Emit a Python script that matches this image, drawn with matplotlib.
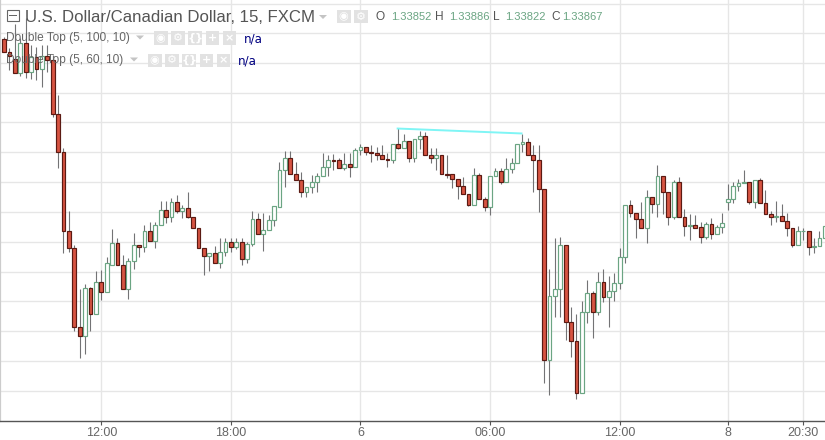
import matplotlib
matplotlib.use("Agg")
import matplotlib.pyplot as plt
from matplotlib.patches import Rectangle, Polygon

# Chart levels: the reference has no visible price axis, so values are in chart units (10 pips is about 29.8 units)
opens = [400.5,388,381,367,397,368,383,371,384,380,326,288,209,192,113,104,152,126,158,148,175,197,175,151,179,195,193,209,199,215,230,223,238,229,232,223,212,192,184,187,177,188,198,193,198,181,196,221,206,210,220,
233,270,282,266,260,248,253,258,264,273,280,280,272,276,273,290,293,288,287,285,281,280,296,292,299,282,301,304,285,282,285,266,266,261,254,246,235,265,241,233,264,269,258,271,277,296,298,285,280,251,
80,144,151,195,118,99,47,128,147,128,158,143,149,157,183,235,227,221,212,243,236,264,248,223,258,223,214,215,213,203,216,206,213,238,241,254,257,258,238,260,237,226,223,224,219,212,195,209,209,193,194,202]
highs = [403,392,416,402,422,395,393,395,395,385,345,292,229,195,151,156,153,169,170,183,211,202,185,182,207,195,215,218,218,239,239,242,245,235,248,223,212,192,187,194,202,202,202,202,202,198,229,227,227,225,234,
278,289,289,278,268,253,265,267,287,285,286,282,287,287,292,296,293,295,293,295,287,296,312,306,299,301,309,308,292,292,285,285,266,261,263,246,272,267,243,264,272,272,282,282,296,306,302,295,295,251,
171,202,203,195,133,126,139,160,149,168,171,164,167,192,235,240,227,238,250,243,275,264,248,260,263,231,226,225,218,218,222,215,227,256,258,261,270,258,260,262,250,229,239,236,227,212,214,212,209,202,209,214]
lows = [388,370,367,364,362,361,360,353,368,323,272,187,188,109,82,86,109,126,140,148,175,175,151,141,171,183,188,199,192,215,217,218,227,222,222,212,192,165,169,177,172,184,188,191,175,177,194,206,189,210,214,
233,253,266,260,243,243,247,248,264,264,270,272,270,263,273,285,285,278,280,281,273,277,291,292,278,278,291,285,277,270,266,262,252,241,246,234,235,241,229,225,264,256,258,267,277,288,285,248,228,57,
45,123,123,100,83,41,47,117,102,125,138,113,139,151,177,223,202,212,197,227,223,226,215,221,223,204,200,212,197,201,201,206,207,230,237,249,257,236,232,237,226,215,218,219,204,193,195,200,185,187,194,202]
closes = [388,384,367,397,368,383,371,384,380,326,288,209,192,113,104,152,126,158,148,177,197,175,151,179,195,193,209,199,215,230,223,238,229,232,223,212,192,184,187,177,188,198,193,198,181,196,221,206,210,220,234,
270,282,266,260,248,253,258,264,273,280,279,272,276,273,290,293,288,287,285,281,280,296,292,299,282,301,304,285,282,285,266,265,261,254,246,235,265,241,233,264,269,258,271,277,296,298,285,280,251,80,
144,151,195,118,99,47,128,147,128,158,143,149,157,183,235,227,221,212,243,236,264,248,223,258,223,214,215,212,203,216,206,213,217,241,254,257,258,238,260,237,226,223,224,219,212,195,209,209,193,194,202,214]

grid_levels = [436,407,377,347,318,288,258,228,198,168,139,109,79,49]
tick_positions = [18,42,66,90,114,134,148]
tick_labels = ["12:00","18:00","6","06:00","12:00","8","20:30"]
pattern_x = [72.7,96]
pattern_y = [311.5,306.5]
title = "U.S. Dollar/Canadian Dollar, 15, FXCM"
study_names = ["Double Top (5, 100, 10)","Double Top (5, 60, 10)"]
ohlc_labels = ["O","H","L","C"]
ohlc_values = ["1.33852","1.33886","1.33822","1.33867"]

W, H = 825, 440
UP_EDGE, DOWN_FILL, DOWN_EDGE, WICK = "#6ba583", "#d75442", "#5b1a13", "#737375"
GRID = "#e6e6e6"

fig = plt.figure(figsize=(8.25, 4.4), dpi=100, facecolor="white")
ax = fig.add_axes([0, 19 / H, 1, 421 / H])
ax.set_xlim(-0.759, 152.02)
ax.set_ylim(19, 440)
ax.set_facecolor("white")
for s in ("top", "right"):
    ax.spines[s].set_visible(False)
ax.spines["left"].set_color("#cccccc")
ax.spines["left"].set_linewidth(1.6)
ax.spines["bottom"].set_color("#555555")
ax.spines["bottom"].set_linewidth(1.0)
ax.set_yticks(grid_levels)
ax.tick_params(axis="y", length=0, labelleft=False)
ax.set_xticks(tick_positions)
ax.set_xticklabels(tick_labels, fontsize=9, color="#666666", family="Liberation Sans")
ax.tick_params(axis="x", length=3, width=0.8, color="#555555", pad=1.5)
ax.grid(True, color=GRID, linewidth=0.95, zorder=0)
ax.set_axisbelow(True)

xs = list(range(len(opens)))
ax.vlines(xs, lows, highs, color=WICK, linewidth=0.8, zorder=2)
BW = 0.68
for i, (o, c) in enumerate(zip(opens, closes)):
    up = c >= o
    ax.bar(i, abs(c - o), bottom=min(o, c), width=BW,
           facecolor="white" if up else DOWN_FILL,
           edgecolor=UP_EDGE if up else DOWN_EDGE, linewidth=0.85, zorder=3)

ax.plot(pattern_x, pattern_y, color="#7ff5f5", linewidth=1.4, solid_capstyle="butt", zorder=4)


def fx(x):
    return x / W


def fy(y):
    return 1 - y / H


def txt(x, y, s, size, color, ha="left", family="Liberation Sans", **kw):
    fig.text(fx(x), fy(y), s, fontsize=size, color=color, ha=ha, va="center", family=family, zorder=10, **kw)


def rect(x, y, w, h, **kw):
    fig.add_artist(Rectangle((fx(x), fy(y + h)), w / W, h / H, transform=fig.transFigure, zorder=9, **kw))


def arrow(x, y, color="#c4c4c4"):
    fig.add_artist(Polygon([(fx(x - 4), fy(y - 2)), (fx(x + 4), fy(y - 2)), (fx(x), fy(y + 2))],
                           closed=True, transform=fig.transFigure, facecolor=color, edgecolor="none", zorder=9))


def icon(x, y, glyph, size=8):
    rect(x, y, 13.5, 13.5, facecolor="#e2e2e2", edgecolor="none")
    txt(x + 6.7, y + 6.7, glyph, size, "white", ha="center", family="DejaVu Sans", fontweight="bold")


# collapse box and title
rect(7, 10, 11.5, 11.5, facecolor="none", edgecolor="#666666", linewidth=0.8)
rect(9, 15.5, 7.5, 0.8, facecolor="#666666", edgecolor="none")
txt(25, 17, title, 12.1, "#555555", fontweight="normal")
arrow(323, 17)
icon(337, 10, "\u25c9")
icon(354, 10, "\u2699")

ohlc_x = [376, 435, 493, 551]
val_x = [391, 449, 505, 562]
for lx, vx, l, v in zip(ohlc_x, val_x, ohlc_labels, ohlc_values):
    txt(lx, 17.5, l, 8.6, "#555555")
    txt(vx, 17.5, v, 8.0, "#6ba583")

# study legends
glyphs = ["\u25c9", "\u2699", "{}", "+", "\u00d7"]
for name, y, ax_x, ic_x, na_x in zip(study_names, (38, 60), (140, 134), (154, 148), (244, 238)):
    txt(6, y + 0.5, name, 8.6, "#666666")
    arrow(ax_x, y - 0.5)
    for k, g in enumerate(glyphs):
        icon(ic_x + k * 17.2, y - 6.5, g)
    txt(na_x, y + 1, "n/a", 8.6, "#000080", family="DejaVu Sans")

fig.savefig("out.png", dpi=100)
